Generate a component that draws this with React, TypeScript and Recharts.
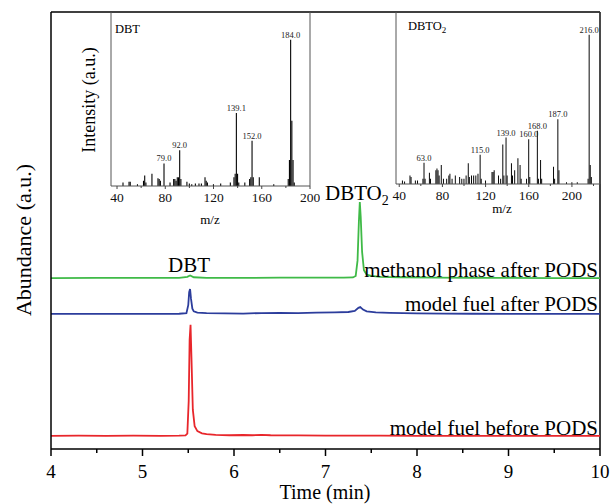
import { LineChart, Line, BarChart, Bar, XAxis, YAxis, ReferenceLine, LabelList } from 'recharts';

const SERIF = "'Liberation Serif', 'Times New Roman', serif";

// chromatograms: [time (min), abundance]
const redTrace: [number, number][] = [
    [4.0, 0], [4.3, 0.05], [4.6, 0], [4.9, 0.05], [5.2, 0], [5.4, 0.05], [5.47, 0.1], [5.49, 0.5],
    [5.505, 8], [5.515, 22], [5.525, 25.4], [5.535, 18], [5.55, 6], [5.57, 2.2], [5.6, 1.1], [5.65, 0.6],
    [5.7, 0.4], [5.8, 0.25], [5.95, 0.15], [6.1, 0.2], [6.2, 0.15], [6.3, 0.25], [6.4, 0.15], [6.5, 0.1],
    [6.7, 0.1], [7.0, 0.05], [7.3, 0.05], [7.6, 0.05], [8.0, 0], [8.5, 0], [9.0, 0], [9.5, 0], [10.0, 0],
];
const blueTrace: [number, number][] = [
    [4.0, 0], [4.5, 0], [5.0, 0], [5.4, 0.05], [5.48, 0.2], [5.5, 2], [5.51, 5], [5.52, 5.7], [5.53, 3.5],
    [5.545, 1.2], [5.56, 0.6], [5.6, 0.3], [5.7, 0.2], [5.9, 0.15], [6.1, 0.1], [6.3, 0.2], [6.5, 0.25],
    [6.7, 0.2], [6.9, 0.3], [7.1, 0.35], [7.25, 0.45], [7.32, 0.7], [7.36, 1.4], [7.38, 1.6], [7.41, 1.0],
    [7.45, 0.6], [7.55, 0.35], [7.7, 0.25], [8.0, 0.15], [8.3, 0.1], [8.6, 0.05], [9.0, 0], [9.5, 0], [10.0, 0],
];
const greenTrace: [number, number][] = [
    [4.0, 0], [4.5, 0.05], [5.0, 0.05], [5.4, 0.05], [5.49, 0.3], [5.52, 0.6], [5.56, 0.2], [5.7, 0.05],
    [6.0, 0.05], [6.5, 0.1], [7.0, 0.1], [7.2, 0.1], [7.3, 0.15], [7.33, 0.5], [7.35, 4], [7.365, 13],
    [7.375, 17.4], [7.385, 14], [7.4, 6], [7.42, 1.8], [7.45, 0.8], [7.5, 0.5], [7.6, 0.3], [7.8, 0.2],
    [8.2, 0.1], [8.6, 0.05], [9.0, 0.05], [9.5, 0], [10.0, 0],
];
const redOffset = 3.0;
const blueOffset = 30.9;
const greenOffset = 39.1;

const timeTicks = [4, 4.5, 5, 5.5, 6, 6.5, 7, 7.5, 8, 8.5, 9, 9.5, 10];

// mass spectra: [m/z, relative intensity]
const dbtPeaks: [number, number][] = [
    [45, 2], [50, 2.5], [51, 2.5], [57, 1], [62, 3], [63, 6], [64, 2], [69, 7], [74, 4.5], [75, 4], [76, 3],
    [79, 13], [84, 2], [87, 4], [88, 4], [89, 3], [90, 5], [91, 5], [92, 20.6], [93, 4], [98, 2.5], [100, 1.5],
    [102, 1], [105, 1.5], [108, 1.5], [110, 1.5], [113, 5], [114, 3], [115, 2], [120, 1], [126, 1.5], [134, 2],
    [137, 5], [138, 7], [139, 42], [140, 7], [141, 2], [146, 2], [150, 4], [151, 5], [152, 26], [153, 5],
    [158, 5], [170, 1], [182, 4], [183, 15], [184, 84], [185, 37.5], [186, 15], [187, 2],
];
const dbtLabels: Record<number, string> = { 79: '79.0', 92: '92.0', 139: '139.1', 152: '152.0', 184: '184.0' };

const dbto2Peaks: [number, number][] = [
    [43, 2], [45, 1.5], [50, 5], [51, 4], [55, 2], [57, 2], [62, 3], [63, 12.4], [64, 3], [68, 6.5], [69, 3],
    [74, 8], [75, 9], [76, 8], [77, 5], [79, 11], [81, 3], [84, 3], [86, 5], [87, 6], [89, 3], [92, 5], [96, 4],
    [98, 3], [100, 3], [102, 5], [104, 12], [105, 4], [107, 5], [109, 5], [111, 5], [113, 6], [115, 17],
    [116, 3], [120, 2], [126, 7], [127, 7], [128, 8], [132, 5], [134, 3], [136, 23], [137, 5], [139, 27],
    [140, 5], [144, 12], [145, 5], [147, 8], [150, 15], [152, 11], [153, 3], [158, 3], [160, 26], [161, 4],
    [168, 31], [169, 3], [171, 14], [172, 3], [183, 10], [184, 3], [187, 37.7], [188, 8], [195, 1], [200, 1],
    [205, 1], [215, 3], [216, 86.8], [217, 11], [218, 4],
];
const dbto2Labels: Record<number, string> = {
    63: '63.0', 115: '115.0', 139: '139.0', 160: '160.0', 168: '168.0', 187: '187.0', 216: '216.0',
};
const dbtTicks = [40, 60, 80, 100, 120, 140, 160, 180, 200];
const dbto2Ticks = [40, 60, 80, 100, 120, 140, 160, 180, 200, 220];

const toSeries = (trace: [number, number][], offset: number) => trace.map(([t, v]) => ({ t, v: v + offset }));
const toSpectrum = (peaks: [number, number][], labels: Record<number, string>) =>
    peaks.map(([mz, i]) => ({ mz, i, label: labels[mz] }));

const TimeTick = (props: any) => {
    const { x, y, payload } = props;
    const major = Number.isInteger(payload.value);
    return (
        <g>
            <line x1={x} x2={x} y1={y} y2={y + (major ? 7 : 4)} stroke="#000" strokeWidth={1.5} />
            {major && (
                <text x={x} y={y + 29} textAnchor="middle" fontSize={19} fontFamily={SERIF} fill="#000">
                    {payload.value}
                </text>
            )}
        </g>
    );
};

const MzTick = (props: any) => {
    const { x, y, payload } = props;
    const major = payload.value % 40 === 0;
    return (
        <g>
            <line x1={x} x2={x} y1={y} y2={y + (major ? 3 : 2)} stroke="#444" strokeWidth={1} />
            {major && (
                <text x={x} y={y + 16} textAnchor="middle" fontSize={13.5} fontFamily={SERIF} fill="#111">
                    {payload.value}
                </text>
            )}
        </g>
    );
};

const PeakLabel = (props: any) => {
    const { x, y, width, value } = props;
    if (!value) return null;
    return (
        <text x={x + width / 2} y={y - 2} textAnchor="middle" fontSize={8.5} fontFamily={SERIF} fill="#222">
            {value}
        </text>
    );
};

const Spectrum = ({ data, domain, ticks, left, width, margin, yWidth, xHeight }: any) => (
    <div style={{ position: 'absolute', left, top: 0 }}>
        <BarChart width={width} height={230} data={data} margin={margin}>
            <XAxis
                type="number"
                dataKey="mz"
                domain={domain}
                ticks={ticks}
                interval={0}
                allowDataOverflow
                height={xHeight}
                tickSize={0}
                tickMargin={0}
                tickLine={false}
                tick={<MzTick />}
                axisLine={{ stroke: '#555', strokeWidth: 1 }}
            />
            <YAxis type="number" domain={[0, 100]} width={yWidth} tick={false} tickLine={false} axisLine={{ stroke: '#555', strokeWidth: 1 }} />
            <ReferenceLine x={domain[1]} stroke="#555" strokeWidth={1} />
            <Bar dataKey="i" fill="#000" barSize={1.5} isAnimationActive={false}>
                <LabelList dataKey="label" content={<PeakLabel />} />
            </Bar>
        </BarChart>
    </div>
);

const App = () => {
    return (
        <div style={{ position: 'absolute', left: 0, top: 0, width: 611, height: 504, background: '#fff', fontFamily: SERIF }}>
            <LineChart width={611} height={504} margin={{ top: 12, right: 11, bottom: 0, left: 0 }}>
                <XAxis
                    type="number"
                    dataKey="t"
                    domain={[4, 10]}
                    ticks={timeTicks}
                    interval={0}
                    allowDataOverflow
                    height={55}
                    tickSize={0}
                    tickMargin={0}
                    tickLine={false}
                    tick={<TimeTick />}
                    axisLine={{ stroke: '#000', strokeWidth: 1.5 }}
                />
                <YAxis type="number" domain={[0, 100]} width={51} tick={false} tickLine={false} axisLine={{ stroke: '#000', strokeWidth: 1.5 }} />
                <ReferenceLine y={100} stroke="#000" strokeWidth={1.5} />
                <ReferenceLine x={10} stroke="#000" strokeWidth={1.5} />
                <Line data={toSeries(redTrace, redOffset)} dataKey="v" type="linear" stroke="#e8262b" strokeWidth={1.8} dot={false} isAnimationActive={false} />
                <Line data={toSeries(blueTrace, blueOffset)} dataKey="v" type="linear" stroke="#2c3d9c" strokeWidth={1.8} dot={false} isAnimationActive={false} />
                <Line data={toSeries(greenTrace, greenOffset)} dataKey="v" type="linear" stroke="#3fba47" strokeWidth={1.8} dot={false} isAnimationActive={false} />
            </LineChart>

            <Spectrum
                data={toSpectrum(dbtPeaks, dbtLabels)}
                domain={[35, 200]}
                ticks={dbtTicks}
                left={60}
                width={260}
                margin={{ top: 12, right: 10, bottom: 0, left: 0 }}
                yWidth={51}
                xHeight={44}
            />
            <Spectrum
                data={toSpectrum(dbto2Peaks, dbto2Labels)}
                domain={[37, 226]}
                ticks={dbto2Ticks}
                left={380}
                width={231}
                margin={{ top: 12, right: 11, bottom: 0, left: 0 }}
                yWidth={16}
                xHeight={46}
            />

            <svg width={611} height={504} style={{ position: 'absolute', left: 0, top: 0, pointerEvents: 'none' }} fontFamily={SERIF} fill="#000">
                <text x={23} y={240} transform="rotate(-90 23 240)" textAnchor="middle" dominantBaseline="central" fontSize={22}>
                    Abundance (a.u.)
                </text>
                <text x={325} y={499} textAnchor="middle" fontSize={20}>Time (min)</text>
                <text x={189} y={272} textAnchor="middle" fontSize={21}>DBT</text>
                <text x={325} y={200} fontSize={21}>
                    DBTO<tspan fontSize={14} dy={5}>2</tspan>
                </text>
                <text x={598} y={277} textAnchor="end" fontSize={21}>methanol phase after PODS</text>
                <text x={598} y={311} textAnchor="end" fontSize={21}>model fuel after PODS</text>
                <text x={598} y={435} textAnchor="end" fontSize={21}>model fuel before PODS</text>

                <text x={115} y={33} fontSize={12.5}>DBT</text>
                <text x={89} y={100} transform="rotate(-90 89 100)" textAnchor="middle" dominantBaseline="central" fontSize={18}>
                    Intensity (a.u.)
                </text>
                <text x={210} y={224} textAnchor="middle" fontSize={13}>m/z</text>

                <text x={408} y={30} fontSize={12.5}>
                    DBTO<tspan fontSize={9} dy={3}>2</tspan>
                </text>
                <text x={502} y={213} textAnchor="middle" fontSize={13}>m/z</text>
            </svg>
        </div>
    );
};

export default App;
